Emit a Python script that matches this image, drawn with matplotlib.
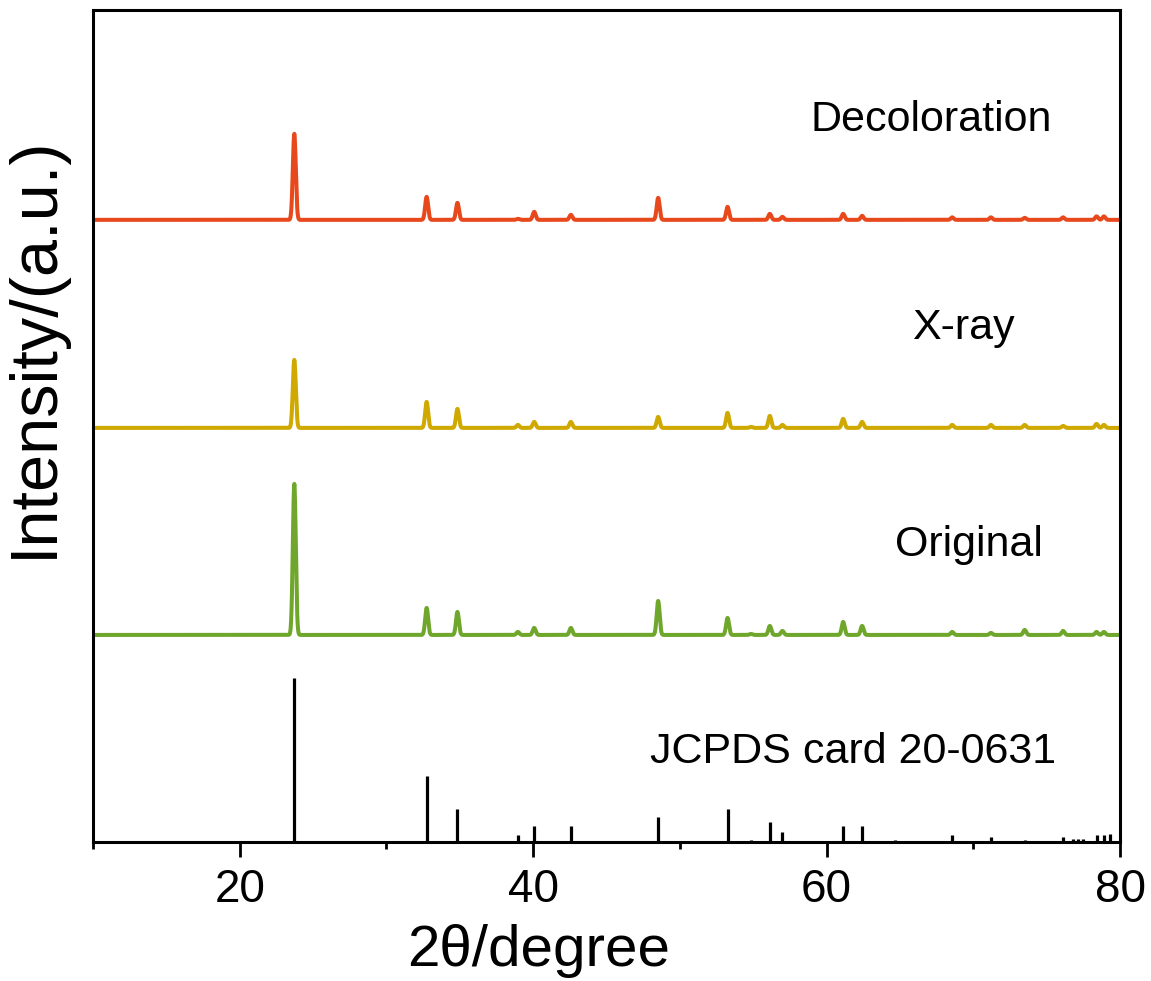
import numpy as np
import matplotlib
matplotlib.use("Agg")
import matplotlib.pyplot as plt
from matplotlib.ticker import MultipleLocator, NullLocator

plt.rcParams['font.family'] = ['Liberation Sans', 'DejaVu Sans']

# Reference card lines (2theta, relative intensity)
card_pos = [23.72, 32.74, 34.84, 38.96, 40.07, 42.57, 48.52, 53.25, 54.84, 56.13,
            56.99, 61.13, 62.42, 64.65, 68.56, 71.20, 73.50, 76.12, 76.76, 77.15,
            77.50, 78.40, 78.90, 79.30]
card_int = [100, 40, 20, 4, 10, 10, 15, 20, 1.5, 12,
            6, 10, 10, 1.5, 4, 3, 1.5, 3, 2, 2,
            2, 4, 4, 5]

# Measured peaks of each sample (2theta, intensity in a.u.)
orig_pos = [23.72, 32.74, 34.84, 38.96, 40.07, 42.57, 48.52, 53.25, 54.84, 56.13,
            56.99, 61.13, 62.42, 68.56, 71.20, 73.50, 76.12, 78.40, 78.90]
orig_int = [151, 27, 23, 3, 7, 7, 34, 17, 1, 9,
            4, 13, 9, 3, 2, 5, 4, 3, 3]

xray_pos = [23.72, 32.74, 34.84, 38.96, 40.07, 42.57, 48.52, 53.25, 54.84, 56.13,
            56.99, 61.13, 62.42, 68.56, 71.20, 73.50, 76.12, 78.40, 78.90]
xray_int = [68, 26, 19, 3, 6, 6, 11, 15, 1, 12,
            3, 9, 6, 3, 3, 3, 2, 4, 3]

deco_pos = [23.72, 32.74, 34.84, 38.96, 40.07, 42.57, 48.52, 53.25, 56.13,
            56.99, 61.13, 62.42, 68.56, 71.20, 73.50, 76.12, 78.40, 78.90]
deco_int = [86, 23, 17, 1, 8, 5, 22, 13, 6,
            3, 6, 4, 2.5, 2.5, 2, 2.5, 3.5, 3.5]

names = ["Original", "X-ray", "Decoloration"]
colors = ["#6FA72C", "#CFA800", "#E8491C"]


def pattern(tt, pos, inten, w=0.1):
    y = np.zeros_like(tt)
    for p, h in zip(pos, inten):
        y += h * np.exp(-0.5 * ((tt - p) / w) ** 2)
    return y


tt = np.arange(10, 80.001, 0.01)

fig = plt.figure(figsize=(11.51, 9.81), dpi=100)
ax = fig.add_axes([0.0808, 0.1417, 0.8923, 0.8483])

offsets = [207, 414, 622]
series = [(orig_pos, orig_int), (xray_pos, xray_int), (deco_pos, deco_int)]
for (pos, inten), off, c in zip(series, offsets, colors):
    ax.plot(tt, pattern(tt, pos, inten) + off, color=c, lw=2.9)

# card sticks
ax.vlines(card_pos, 0, np.array(card_int) * 1.64, color="black", lw=2.3)

ax.text(67.1, 722, "Decoloration", fontsize=31, ha="center", va="center")
ax.text(69.3, 514, "X-ray", fontsize=31, ha="center", va="center")
ax.text(69.7, 297, "Original", fontsize=31, ha="center", va="center")
ax.text(61.8, 90, "JCPDS card 20-0631", fontsize=31, ha="center", va="center")

ax.set_xlim(10, 80)
ax.set_ylim(0, 832)
ax.xaxis.set_major_locator(MultipleLocator(20))
ax.xaxis.set_minor_locator(MultipleLocator(10))
ax.yaxis.set_major_locator(NullLocator())
ax.tick_params(axis="x", which="major", direction="out", length=11, width=2,
               labelsize=33, pad=8)
ax.tick_params(axis="x", which="minor", direction="out", length=5, width=2)
for s in ax.spines.values():
    s.set_linewidth(2.2)

ax.set_xlabel("2θ/degree", fontsize=42, labelpad=0)
ax.xaxis.set_label_coords(0.434, -0.098)
ax.set_ylabel("Intensity/(a.u.)", fontsize=48)
ax.yaxis.set_label_coords(-0.026, 0.595)

fig.savefig("out.png", dpi=100)
